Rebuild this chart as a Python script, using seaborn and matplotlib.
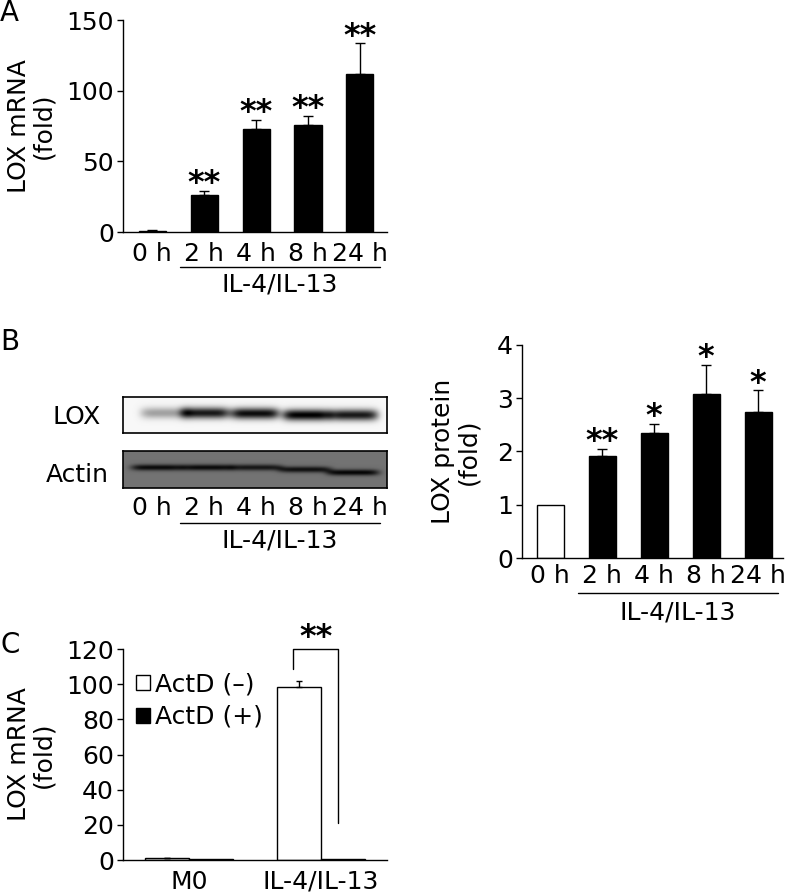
import numpy as np
import pandas as pd
import matplotlib
matplotlib.use("Agg")
import matplotlib.pyplot as plt
import seaborn as sns

sns.set_theme(style="ticks")
plt.rcParams['font.family'] = ['DejaVu Sans']
plt.rcParams.update({"text.color": "black", "axes.labelcolor": "black",
                     "xtick.color": "black", "ytick.color": "black",
                     "axes.edgecolor": "black"})

# ---- data ----
times = ["0 h", "2 h", "4 h", "8 h", "24 h"]

# panel A: LOX mRNA time course
mrna_mean = [1.0, 26.0, 73.0, 76.0, 112.0]
mrna_err = [0.3, 3.0, 6.5, 6.0, 21.5]
mrna_stars = ["", "**", "**", "**", "**"]

# panel B: LOX protein densitometry
protein_mean = [1.0, 1.92, 2.34, 3.08, 2.75]
protein_err = [0.0, 0.13, 0.18, 0.55, 0.40]
protein_stars = ["", "**", "*", "*", "*"]

# panel B: western blot band strengths (0 = none, 1 = saturated)
lox_band_pos = [0.25, 1.02, 1.98, 2.98, 3.88]
lox_band_strength = [0.35, 0.9, 0.95, 1.0, 0.9]
lox_band_y = [16.0, 16.0, 16.5, 18.0, 18.0]
actin_band_pos = [0.10, 1.06, 2.00, 2.94, 3.87]
actin_band_strength = [0.9, 0.9, 0.8, 0.85, 0.95]
actin_band_y = [16.5, 16.5, 16.5, 18.5, 21.5]

# panel C: actinomycin D
groups = ["M0", "IL-4/IL-13"]
actd_labels = ["ActD (\u2013)", "ActD (+)"]
actd_minus = [1.2, 98.5]
actd_minus_err = [0.2, 3.5]
actd_plus = [0.3, 0.3]

W, H = 789, 896
FS = 18
STAR_FS = 23
PANEL_FS = 20
fig = plt.figure(figsize=(W / 100, H / 100), dpi=100)


def px_axes(left, top, right, bottom):
    return fig.add_axes([left / W, 1 - bottom / H, (right - left) / W, (bottom - top) / H])


def style_axes(ax, pad):
    sns.despine(ax=ax)
    for s in ["left", "bottom"]:
        ax.spines[s].set_color("black")
        ax.spines[s].set_linewidth(1.0)
    ax.tick_params(axis="y", length=4.5, width=1, pad=2, labelsize=FS, color="black")
    ax.tick_params(axis="x", length=0, pad=pad, labelsize=FS)
    ax.set_xlabel("")


def add_errorbars(ax, x, mean, err, capsize=3.6):
    ax.errorbar(x, mean, yerr=[np.zeros(len(err)), err], fmt="none",
                ecolor="black", elinewidth=1, capsize=capsize, capthick=1)


def add_stars(ax, x, mean, err, stars):
    for xi, m, e, s in zip(x, mean, err, stars):
        if s:
            ax.annotate(s, (xi, m + e), xytext=(0, -1), textcoords="offset points",
                        ha="center", va="baseline", fontsize=STAR_FS,
                        fontweight="bold", clip_on=False)


def add_treatment_line(ax, y_line, y_text, x0=0.53, x1=4.38):
    tr = ax.get_xaxis_transform()
    ax.plot([x0, x1], [y_line, y_line], color="black", lw=1, transform=tr, clip_on=False)
    ax.text((x0 + x1) / 2, y_text, "IL-4/IL-13", transform=tr, ha="center",
            va="center", fontsize=FS)


# ---------------- panel A ----------------
ax_a = px_axes(123, 20, 387, 232)
df_a = pd.DataFrame({"time": times, "mrna": mrna_mean})
sns.barplot(data=df_a, x="time", y="mrna", color="black", width=0.52,
            errorbar=None, ax=ax_a, saturation=1, edgecolor="black")
add_errorbars(ax_a, range(len(times)), mrna_mean, mrna_err)
add_stars(ax_a, range(len(times)), mrna_mean, mrna_err, mrna_stars)
ax_a.set_xlim(-0.56, 4.52)
ax_a.set_ylim(0, 150)
ax_a.set_yticks([0, 50, 100, 150])
style_axes(ax_a, 7)
ax_a.set_ylabel("LOX mRNA\n(fold)", fontsize=FS, linespacing=1.05)
ax_a.yaxis.set_label_coords(-0.255, 0.5)
add_treatment_line(ax_a, -0.165, -0.25)
fig.text(0 / W, 1 - 13 / H, "A", fontsize=PANEL_FS, va="center", ha="left")

# ---------------- panel B: blot ----------------
def blot_image(pos, strength, ycen, bg, width_lane=0.42, thick=4.5, ny=36):
    xs = np.linspace(-0.56, 4.52, 528)
    ys = np.arange(ny) + 0.5
    img = np.zeros((ny, xs.size))
    for p, s, yc in zip(pos, strength, ycen):
        prof_x = np.exp(-0.5 * (np.abs(xs - p) / width_lane) ** 6)
        prof_y = np.exp(-0.5 * ((ys - yc) / thick) ** 2)
        img += s * np.outer(prof_y, prof_x)
    img = np.clip(img, 0, 1)
    return bg * (1 - img)


ax_lox = px_axes(123, 397, 387, 433)
ax_lox.imshow(blot_image(lox_band_pos, lox_band_strength, lox_band_y, 0.97, thick=4.0),
              cmap="gray", vmin=0, vmax=1, aspect="auto",
              extent=(-0.56, 4.52, 36, 0), interpolation="bilinear")
ax_act = px_axes(123, 451, 387, 488)
ax_act.imshow(blot_image(actin_band_pos, actin_band_strength, actin_band_y, 0.45,
                         width_lane=0.45, thick=2.2, ny=37),
              cmap="gray", vmin=0, vmax=1, aspect="auto",
              extent=(-0.56, 4.52, 37, 0), interpolation="bilinear")
for ax in (ax_lox, ax_act):
    ax.set_xlim(-0.56, 4.52)
    ax.set_yticks([])
    for s in ax.spines.values():
        s.set_color("black")
        s.set_linewidth(1.2)
ax_lox.set_xticks([])
ax_act.set_xticks(range(len(times)))
ax_act.set_xticklabels(times)
ax_act.tick_params(axis="x", length=0, pad=6, labelsize=FS)
add_treatment_line(ax_act, -0.95, -1.42)
fig.text(77 / W, 1 - 417 / H, "LOX", fontsize=FS, ha="center", va="center")
fig.text(77 / W, 1 - 475 / H, "Actin", fontsize=FS, ha="center", va="center")
fig.text(0 / W, 1 - 342 / H, "B", fontsize=PANEL_FS, va="center", ha="left")

# ---------------- panel B: bars ----------------
ax_b = px_axes(522, 345, 783, 558)
df_b = pd.DataFrame({"time": times, "protein": protein_mean})
sns.barplot(data=df_b, x="time", y="protein", hue="time", legend=False,
            palette=["white"] + ["black"] * 4, width=0.52, errorbar=None,
            ax=ax_b, saturation=1, edgecolor="black", linewidth=1)
add_errorbars(ax_b, range(1, len(times)), protein_mean[1:], protein_err[1:])
add_stars(ax_b, range(len(times)), protein_mean, protein_err, protein_stars)
ax_b.set_xlim(-0.54, 4.48)
ax_b.set_ylim(0, 4)
ax_b.set_yticks([0, 1, 2, 3, 4])
style_axes(ax_b, 4.5)
ax_b.set_ylabel("LOX protein\n(fold)", fontsize=FS, linespacing=1.05)
ax_b.yaxis.set_label_coords(-0.16, 0.5)
add_treatment_line(ax_b, -0.164, -0.254)

# ---------------- panel C ----------------
ax_c = px_axes(123, 649, 387, 860)
df_c = pd.DataFrame({
    "group": groups * 2,
    "treatment": [actd_labels[0]] * 2 + [actd_labels[1]] * 2,
    "mrna": actd_minus + actd_plus,
})
sns.barplot(data=df_c, x="group", y="mrna", hue="treatment",
            palette=["white", "black"], width=0.667, errorbar=None, ax=ax_c,
            saturation=1, edgecolor="black", linewidth=1)
dodge = 0.667 / 4
add_errorbars(ax_c, np.arange(2) - dodge, actd_minus, actd_minus_err, capsize=2.5)
ax_c.set_xlim(-0.5, 1.5)
ax_c.set_ylim(0, 120)
ax_c.set_yticks(range(0, 121, 20))
style_axes(ax_c, 7)
ax_c.set_ylabel("LOX mRNA\n(fold)", fontsize=FS, linespacing=1.05)
ax_c.yaxis.set_label_coords(-0.255, 0.5)
ax_c.legend(loc="upper left", bbox_to_anchor=(0.05, 0.89), frameon=False,
            fontsize=FS, handlelength=0.55, handleheight=0.55, handletextpad=0.2,
            labelspacing=0.35, borderpad=0, borderaxespad=0)
# significance bracket
ax_c.plot([0.79, 0.79, 1.13, 1.13], [108.6, 120, 120, 21], color="black", lw=1,
          clip_on=False)
ax_c.annotate("**", (0.96, 120), xytext=(0, 2), textcoords="offset points",
              ha="center", va="baseline", fontsize=STAR_FS, fontweight="bold")
fig.text(0 / W, 1 - 645 / H, "C", fontsize=PANEL_FS, va="center", ha="left")

fig.savefig("out.png", dpi=100, facecolor="white")
